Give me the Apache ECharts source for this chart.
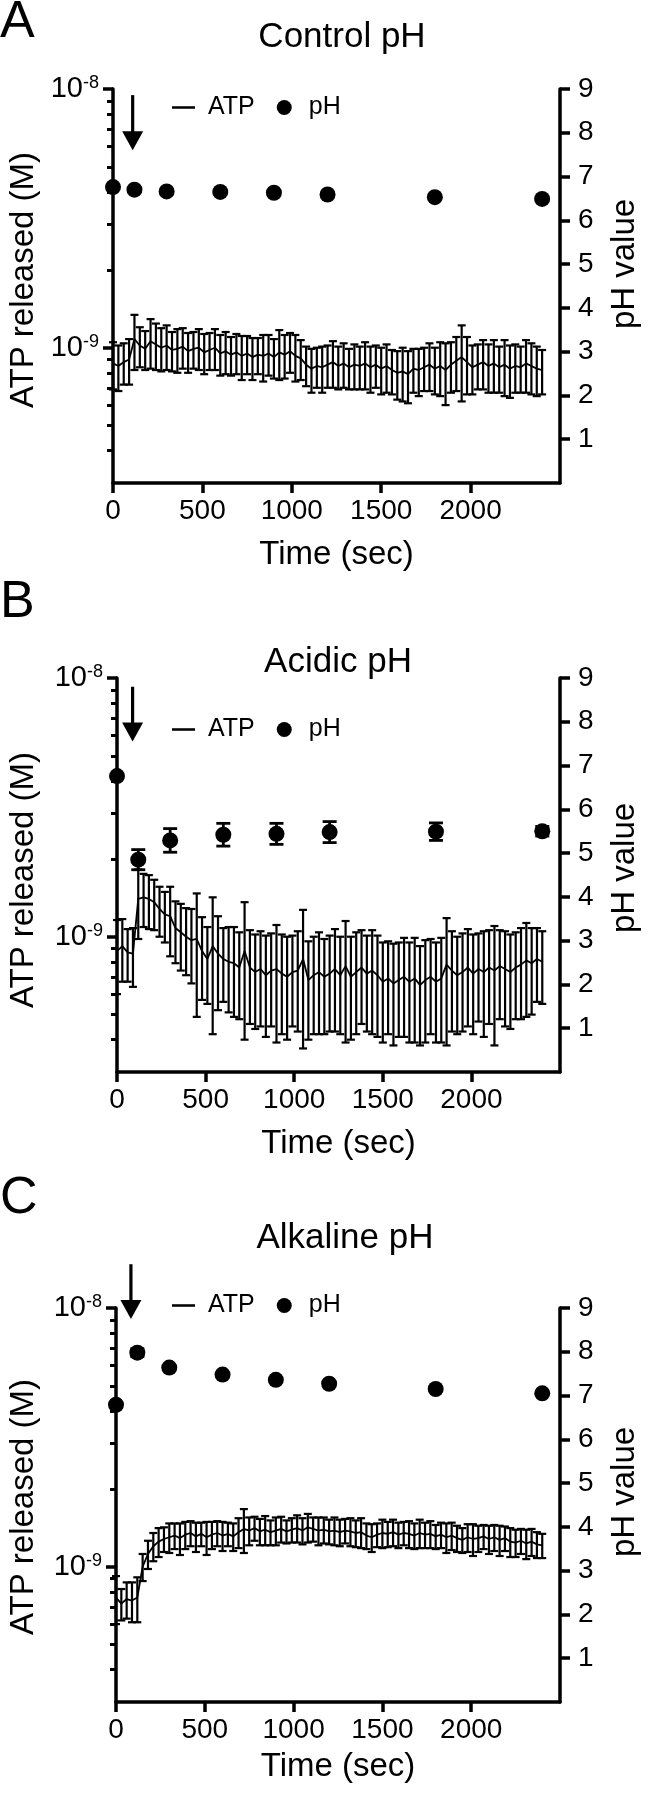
<!DOCTYPE html>
<html>
<head>
<meta charset="utf-8">
<script src="https://cdn.jsdelivr.net/npm/echarts@6/dist/echarts.min.js"></script>
<style>
html,body{margin:0;padding:0;background:#fff;}
#chart{width:649px;height:1794px;}
</style>
</head>
<body>
<div id="chart"></div>
<script>
// ---------------- DATA ----------------
const panelLetters = ['A', 'B', 'C'];
const panelTitles = ['Control pH', 'Acidic pH', 'Alkaline pH'];
const leftAxisName = 'ATP released (M)';

// sampling times of the ATP recordings (sec)
const timeSec = [0,30,60,90,120,150,180,210,240,270,300,330,360,390,420,450,480,510,540,570,
  600,630,660,690,720,750,780,810,840,870,900,930,960,990,1020,1050,1080,1110,1140,1170,
  1200,1230,1260,1290,1320,1350,1380,1410,1440,1470,1500,1530,1560,1590,1620,1650,1680,1710,1740,1770,
  1800,1830,1860,1890,1920,1950,1980,2010,2040,2070,2100,2130,2160,2190,2220,2250,2280,2310,2340,2370,2400];

// ATP released, mean and SEM (nM = 1e-9 M)
const atpMeanA = [0.87,0.85,0.88,0.90,1.08,1.02,0.99,1.06,1.03,1.00,
  1.02,0.98,0.99,1.01,0.97,0.99,1.00,0.96,0.98,1.00,
  0.95,0.97,0.94,0.96,0.93,0.95,0.92,0.94,0.93,0.95,
  0.92,0.96,0.94,0.97,0.93,0.91,0.86,0.83,0.85,0.84,
  0.86,0.88,0.85,0.87,0.84,0.86,0.85,0.87,0.84,0.86,
  0.83,0.85,0.82,0.80,0.81,0.79,0.83,0.82,0.84,0.86,
  0.83,0.85,0.82,0.86,0.89,0.92,0.88,0.84,0.86,0.88,
  0.85,0.87,0.84,0.86,0.83,0.85,0.84,0.87,0.85,0.83,0.82];
const atpSemA = [0.18,0.17,0.16,0.18,0.26,0.18,0.17,0.23,0.21,0.19,
  0.20,0.17,0.19,0.18,0.17,0.16,0.18,0.17,0.16,0.18,
  0.17,0.18,0.16,0.17,0.18,0.16,0.17,0.15,0.19,0.17,
  0.16,0.21,0.18,0.17,0.19,0.16,0.15,0.16,0.15,0.17,
  0.16,0.18,0.16,0.17,0.15,0.17,0.16,0.18,0.17,0.16,
  0.17,0.18,0.16,0.17,0.19,0.18,0.16,0.17,0.16,0.18,
  0.17,0.20,0.22,0.19,0.21,0.30,0.22,0.18,0.17,0.19,
  0.18,0.20,0.17,0.21,0.19,0.18,0.17,0.20,0.19,0.18,0.16];

const atpMeanB = [0.88,0.92,0.87,0.86,1.40,1.42,1.40,1.36,1.28,1.22,
  1.20,1.08,1.04,1.00,0.97,0.98,0.88,0.82,0.92,0.86,
  0.82,0.80,0.79,0.76,0.88,0.76,0.73,0.75,0.71,0.74,
  0.75,0.72,0.70,0.73,0.74,0.82,0.68,0.71,0.73,0.70,
  0.72,0.75,0.71,0.77,0.70,0.73,0.76,0.72,0.74,0.71,
  0.67,0.69,0.66,0.68,0.70,0.67,0.69,0.65,0.68,0.70,
  0.67,0.69,0.78,0.74,0.71,0.73,0.76,0.72,0.75,0.73,
  0.76,0.74,0.77,0.75,0.73,0.76,0.78,0.81,0.79,0.82,0.80];
const atpSemB = [0.28,0.25,0.20,0.22,0.42,0.33,0.33,0.30,0.28,0.27,
  0.36,0.29,0.30,0.29,0.31,0.49,0.31,0.27,0.50,0.34,
  0.26,0.29,0.30,0.28,0.48,0.30,0.29,0.30,0.30,0.29,
  0.36,0.30,0.30,0.28,0.31,0.45,0.28,0.29,0.31,0.28,
  0.29,0.32,0.29,0.38,0.30,0.31,0.30,0.29,0.32,0.30,
  0.28,0.27,0.28,0.27,0.29,0.28,0.30,0.27,0.29,0.28,
  0.28,0.30,0.40,0.31,0.29,0.30,0.31,0.30,0.28,0.32,
  0.30,0.36,0.29,0.30,0.29,0.28,0.30,0.32,0.29,0.26,0.25];

const atpMeanC = [0.76,0.72,0.75,0.74,0.76,1.00,1.12,1.20,1.25,1.28,
  1.30,1.32,1.29,1.33,1.35,1.31,1.34,1.30,1.33,1.35,
  1.32,1.34,1.31,1.36,1.40,1.38,1.41,1.37,1.39,1.36,
  1.38,1.40,1.37,1.39,1.41,1.38,1.42,1.40,1.38,1.39,
  1.37,1.38,1.36,1.38,1.37,1.35,1.36,1.32,1.30,1.33,
  1.35,1.34,1.36,1.33,1.35,1.34,1.32,1.35,1.33,1.34,
  1.31,1.33,1.30,1.32,1.29,1.27,1.30,1.28,1.29,1.31,
  1.28,1.30,1.27,1.29,1.25,1.24,1.26,1.23,1.25,1.22,1.21];
const atpSemC = [0.16,0.10,0.12,0.13,0.15,0.12,0.14,0.15,0.16,0.14,
  0.17,0.15,0.18,0.16,0.15,0.17,0.14,0.19,0.16,0.15,
  0.17,0.14,0.16,0.18,0.27,0.17,0.15,0.16,0.18,0.15,
  0.17,0.16,0.14,0.15,0.17,0.16,0.18,0.15,0.17,0.16,
  0.15,0.17,0.16,0.15,0.17,0.16,0.18,0.15,0.16,0.14,
  0.17,0.15,0.16,0.15,0.14,0.16,0.15,0.17,0.15,0.16,
  0.14,0.15,0.17,0.16,0.15,0.14,0.16,0.18,0.15,0.14,
  0.16,0.15,0.17,0.14,0.16,0.15,0.14,0.16,0.15,0.14,0.13];

// pH measurements
const phTimes = [0, 120, 300, 600, 900, 1200, 1800, 2400];
const phMeanA = [6.76, 6.70, 6.66, 6.65, 6.63, 6.59, 6.53, 6.49];
const phSemA  = [0.03, 0.04, 0.03, 0.03, 0.04, 0.03, 0.04, 0.04];
const phMeanB = [6.76, 4.85, 5.29, 5.42, 5.44, 5.48, 5.49, 5.50];
const phSemB  = [0.03, 0.23, 0.27, 0.26, 0.24, 0.24, 0.20, 0.11];
const phMeanC = [6.79, 7.98, 7.64, 7.48, 7.36, 7.27, 7.15, 7.05];
const phSemC  = [0.03, 0.09, 0.03, 0.03, 0.03, 0.03, 0.03, 0.03];

// stimulus arrow (time in sec, from / to in pH units)
const arrowTime = [110, 88, 84];
const arrowFromPH = [8.86, 8.80, 10.0];
const arrowToPH = [7.60, 7.55, 8.75];

// axis ticks
const xTicks = [0, 500, 1000, 1500, 2000];
const phTicks = [1, 2, 3, 4, 5, 6, 7, 8, 9];
const atpMajorTicks = [1e-9, 1e-8];
const atpMinorTicks = [4e-10,5e-10,6e-10,7e-10,8e-10,9e-10,2e-9,3e-9,4e-9,5e-9,6e-9,7e-9,8e-9,9e-9];

// ---------------- LAYOUT ----------------
const FONT = '"Liberation Sans", Arial, Helvetica, sans-serif';
const layout = [
  {left:113, top:89,   letterY:23,   titleX:342, titleY:37,   legendY:108,  phShift:-22, atpShift:-6, timeGap:55},
  {left:117, top:678,  letterY:603,  titleX:338, titleY:662,  legendY:730,  phShift:-7,  atpShift:5,  timeGap:55},
  {left:116, top:1308, letterY:1199, titleX:345, titleY:1238, legendY:1306, phShift:-13, atpShift:2,  timeGap:48}
];
const GW = 448, GH = 394;
const TICK_FS = 28, NAME_FS = 33, TITLE_FS = 35, LEGEND_FS = 25, LETTER_FS = 52;
const LEFT_NAME_X = 24;

const atpMeans = [atpMeanA, atpMeanB, atpMeanC];
const atpSems = [atpSemA, atpSemB, atpSemC];
const phMeans = [phMeanA, phMeanB, phMeanC];
const phSems = [phSemA, phSemB, phSemC];

function errRender(cap, w) {
  return function (params, api) {
    const t = api.value(0), lo = api.value(1), hi = api.value(2);
    const a = api.coord([t, hi]), b = api.coord([t, lo]);
    const st = {stroke: '#000', lineWidth: w};
    return {type: 'group', children: [
      {type: 'line', shape: {x1: a[0], y1: a[1], x2: b[0], y2: b[1]}, style: st},
      {type: 'line', shape: {x1: a[0] - cap / 2, y1: a[1], x2: a[0] + cap / 2, y2: a[1]}, style: st},
      {type: 'line', shape: {x1: b[0] - cap / 2, y1: b[1], x2: b[0] + cap / 2, y2: b[1]}, style: st}
    ]};
  };
}

const black = '#000';
const axisLineStyle = {color: black, width: 3.5};
const option = {
  animation: false,
  backgroundColor: '#fff',
  textStyle: {fontFamily: FONT, color: black},
  title: [], legend: [], grid: [], xAxis: [], yAxis: [], series: []
};

layout.forEach((L, g) => {
  option.grid.push({left: L.left, top: L.top, width: GW, height: GH});

  option.title.push({text: panelLetters[g], left: 0, top: L.letterY - LETTER_FS / 2, padding: 0,
    textStyle: {fontSize: LETTER_FS, fontWeight: 'normal', color: black, fontFamily: FONT}});
  option.title.push({text: panelTitles[g], left: L.titleX, top: L.titleY - TITLE_FS / 2, textAlign: 'center', padding: 0,
    textStyle: {fontSize: TITLE_FS, fontWeight: 'normal', color: black, fontFamily: FONT}});

  option.legend.push({
    data: [{name: 'ATP', icon: 'path://M0,0 L10,0 L10,1.1 L0,1.1 Z'}, {name: 'pH', icon: 'circle'}],
    left: 172, top: L.legendY - 13, padding: 0,
    itemWidth: 23, itemHeight: 15, itemGap: 22, selectedMode: false,
    itemStyle: {color: black, opacity: 1},
    textStyle: {fontSize: LEGEND_FS, color: black, fontFamily: FONT, padding: [0, 0, 0, 8]}});

  option.xAxis.push({type: 'value', gridIndex: g, min: 0, max: 2500,
    name: 'Time (sec)', nameLocation: 'middle', nameGap: L.timeGap, nameMoveOverlap: false,
    nameTextStyle: {fontSize: NAME_FS, color: black, fontFamily: FONT},
    axisLine: {show: true, onZero: false, lineStyle: axisLineStyle},
    axisTick: {show: true, customValues: xTicks, length: 10, lineStyle: axisLineStyle},
    axisLabel: {customValues: xTicks, fontSize: TICK_FS, color: black, fontFamily: FONT, margin: 14,
      formatter: v => String(v)},
    splitLine: {show: false}});

  // left log axis: major ticks + labels (its title is drawn as graphic text below)
  option.yAxis.push({type: 'log', logBase: 10, gridIndex: g, position: 'left', min: 3e-10, max: 1e-8,
    axisLine: {show: true, onZero: false, lineStyle: axisLineStyle},
    axisTick: {show: true, customValues: atpMajorTicks, length: 10, lineStyle: axisLineStyle},
    axisLabel: {customValues: atpMajorTicks, margin: 14,
      formatter: v => '{b|10}{s|' + Math.round(Math.log10(v)) + '}',
      rich: {
        b: {fontSize: 29, lineHeight: 30, color: black, fontFamily: FONT},
        s: {fontSize: 18, lineHeight: 18, verticalAlign: 'top', color: black, fontFamily: FONT}
      }},
    splitLine: {show: false}});
  // left log axis: minor ticks only
  option.yAxis.push({type: 'log', logBase: 10, gridIndex: g, position: 'left', min: 3e-10, max: 1e-8,
    axisLine: {show: false, onZero: false},
    axisTick: {show: true, customValues: atpMinorTicks, length: 6, lineStyle: {color: black, width: 3}},
    axisLabel: {show: false}, splitLine: {show: false}});
  // right pH axis
  option.yAxis.push({type: 'value', gridIndex: g, position: 'right', min: 0, max: 9, interval: 1,
    name: 'pH value', nameLocation: 'middle', nameRotate: 90, nameGap: 48, nameMoveOverlap: false,
    nameTextStyle: {fontSize: NAME_FS, color: black, fontFamily: FONT, padding: [0, 0, 0, -2 * L.phShift]},
    axisLine: {show: true, onZero: false, lineStyle: axisLineStyle},
    axisTick: {show: true, customValues: phTicks, length: 10, lineStyle: axisLineStyle},
    axisLabel: {customValues: phTicks, fontSize: TICK_FS, color: black, fontFamily: FONT, margin: 18},
    splitLine: {show: false}});

  const m = atpMeans[g], s = atpSems[g];
  option.series.push({type: 'custom', name: 'ATP error', xAxisIndex: g, yAxisIndex: 3 * g,
    renderItem: errRender(8, 2.2), encode: {x: 0, y: [1, 2]}, silent: true, z: 2,
    data: timeSec.map((t, i) => [t, (m[i] - s[i]) * 1e-9, (m[i] + s[i]) * 1e-9])});
  option.series.push({type: 'line', name: 'ATP', xAxisIndex: g, yAxisIndex: 3 * g, symbol: 'none',
    lineStyle: {color: black, width: 1.8}, itemStyle: {color: black}, z: 3,
    data: timeSec.map((t, i) => [t, m[i] * 1e-9])});

  const pm = phMeans[g], ps = phSems[g];
  option.series.push({type: 'custom', name: 'pH error', xAxisIndex: g, yAxisIndex: 3 * g + 2,
    renderItem: errRender(14, 2.8), encode: {x: 0, y: [1, 2]}, silent: true, z: 4,
    data: phTimes.map((t, i) => [t, pm[i] - ps[i], pm[i] + ps[i]])});
  option.series.push({type: 'scatter', name: 'pH', xAxisIndex: g, yAxisIndex: 3 * g + 2,
    symbol: 'circle', symbolSize: 16, itemStyle: {color: black, opacity: 1}, z: 5,
    data: phTimes.map((t, i) => [t, pm[i]])});
});

const chart = echarts.init(document.getElementById('chart'), null, {renderer: 'canvas'});
chart.setOption(option);

// stimulus arrows positioned through the axes + left axis titles
const graphics = [];
layout.forEach((L, g) => {
  const finder = {xAxisIndex: g, yAxisIndex: 3 * g + 2};
  const p1 = chart.convertToPixel(finder, [arrowTime[g], arrowFromPH[g]]);
  const p2 = chart.convertToPixel(finder, [arrowTime[g], arrowToPH[g]]);
  const headH = 19, headW = 21;
  graphics.push({type: 'line', shape: {x1: p1[0], y1: p1[1], x2: p2[0], y2: p2[1] - headH + 2},
    style: {stroke: black, lineWidth: 3.2}, z: 10});
  graphics.push({type: 'polygon', shape: {points: [[p2[0] - headW / 2, p2[1] - headH], [p2[0] + headW / 2, p2[1] - headH], [p2[0], p2[1]]]},
    style: {fill: black}, z: 10});
  graphics.push({type: 'text', x: LEFT_NAME_X, y: L.top + GH / 2 + L.atpShift, rotation: Math.PI / 2, z: 10,
    style: {text: leftAxisName, fill: black, font: NAME_FS + 'px ' + FONT, align: 'center', verticalAlign: 'middle'}});
});
chart.setOption({graphic: graphics});
</script>
</body>
</html>
